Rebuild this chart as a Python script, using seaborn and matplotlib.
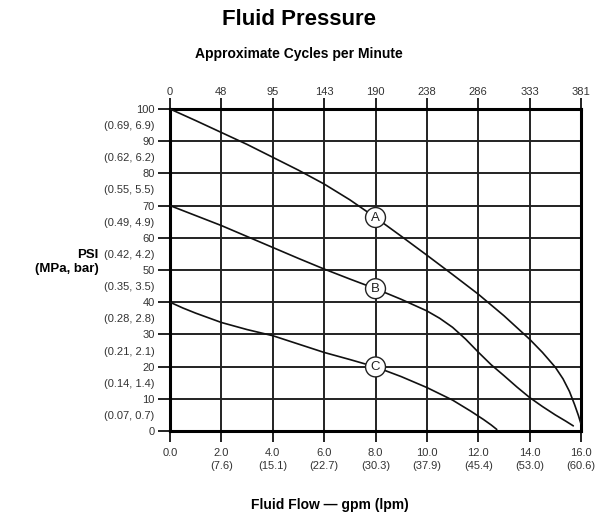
import matplotlib
matplotlib.use("Agg")
import matplotlib.pyplot as plt
import seaborn as sns
import pandas as pd
from matplotlib import font_manager

# ---- data ----
flow_ticks = [0, 2, 4, 6, 8, 10, 12, 14, 16]
flow_labels = ["0.0", "2.0\n(7.6)", "4.0\n(15.1)", "6.0\n(22.7)", "8.0\n(30.3)",
               "10.0\n(37.9)", "12.0\n(45.4)", "14.0\n(53.0)", "16.0\n(60.6)"]
cycle_labels = ["0", "48", "95", "143", "190", "238", "286", "333", "381"]
psi_ticks = [0, 10, 20, 30, 40, 50, 60, 70, 80, 90, 100]
mpa_ticks = [5, 15, 25, 35, 45, 55, 65, 75, 85, 95]
mpa_labels = ["(0.07, 0.7)", "(0.14, 1.4)", "(0.21, 2.1)", "(0.28, 2.8)", "(0.35, 3.5)",
              "(0.42, 4.2)", "(0.49, 4.9)", "(0.55, 5.5)", "(0.62, 6.2)", "(0.69, 6.9)"]

a_flow = [0, 1, 2, 3, 4, 5, 6, 7, 8, 9, 10, 11, 12, 13, 14, 14.5, 15, 15.3, 15.55,
          15.75, 15.9, 16.0]
a_psi = [100, 96.4, 92.7, 89.0, 85.0, 81.0, 76.7, 71.8, 66.3, 60.5, 54.6, 48.6, 42.5,
         35.8, 28.5, 24.4, 19.8, 16.2, 12.3, 8.2, 4.8, 2.2]
b_flow = [0, 1, 2, 3, 4, 5, 6, 7, 8, 9, 10, 10.5, 11, 11.5, 12, 12.5, 13, 13.5, 14, 14.5,
          15, 15.4, 15.7]
b_psi = [70, 66.9, 63.8, 60.4, 57.0, 53.6, 50.3, 47.2, 44.2, 40.9, 37.3, 35.0, 32.2,
         28.6, 24.5, 20.6, 17.2, 13.7, 10.4, 7.6, 5.0, 3.1, 1.6]
c_flow = [0, 0.5, 1, 2, 3, 4, 5, 6, 7, 8, 9, 10, 11, 11.7, 12.2, 12.5, 12.72]
c_psi = [40, 38.2, 36.6, 33.7, 31.5, 29.6, 27.0, 24.4, 22.2, 19.9, 16.9, 13.5, 9.6,
         6.2, 3.6, 1.9, 0.5]

label_names = ["A", "B", "C"]
label_flow = [8.0, 8.0, 8.0]
label_psi = [66.3, 44.2, 19.9]

# ---- fonts ----
names = {f.name for f in font_manager.fontManager.ttflist}
fam = "Liberation Sans Narrow" if "Liberation Sans Narrow" in names else "Liberation Sans"

sns.set_theme(style="white")
plt.rcParams["font.family"] = [fam, "DejaVu Sans"]

df = pd.concat([
    pd.DataFrame({"flow": a_flow, "psi": a_psi, "curve": "A"}),
    pd.DataFrame({"flow": b_flow, "psi": b_psi, "curve": "B"}),
    pd.DataFrame({"flow": c_flow, "psi": c_psi, "curve": "C"}),
])

fig = plt.figure(figsize=(5.97, 5.22), dpi=100)
ax = fig.add_axes([0.2848, 0.1743, 0.9732 - 0.2848, 0.7912 - 0.1743])

sns.lineplot(data=df, x="flow", y="psi", units="curve", estimator=None, sort=False,
             color="#111111", linewidth=1.2, ax=ax, zorder=3)

ax.set_xlim(0, 16)
ax.set_ylim(0, 100)

# grid
for v in flow_ticks:
    ax.axvline(v, color="#222222", linewidth=1.4, zorder=1)
for v in psi_ticks:
    ax.axhline(v, color="#222222", linewidth=1.4, zorder=1)

for s in ax.spines.values():
    s.set_visible(True)
    s.set_color("black")
    s.set_linewidth(2.2)

ax.set_xticks(flow_ticks)
ax.set_xticklabels(flow_labels, fontsize=8, color="#333333", linespacing=1.45)
ax.set_yticks(psi_ticks)
ax.set_yticklabels([str(v) for v in psi_ticks], fontsize=8, color="#333333")
ax.set_yticks(mpa_ticks, minor=True)
ax.set_yticklabels(mpa_labels, minor=True, fontsize=8, color="#333333")
ax.tick_params(axis="y", which="major", direction="out", length=9, width=1.4,
               color="#222222", left=True, pad=2)
ax.tick_params(axis="y", which="minor", length=0, pad=11)
ax.tick_params(axis="x", which="major", direction="out", length=8, width=1.4,
               color="#222222", bottom=True, pad=4)
ax.set_xlabel("")
ax.set_ylabel("")

top = ax.secondary_xaxis("top")
top.set_xticks(flow_ticks)
top.set_xticklabels(cycle_labels, fontsize=8, color="#333333")
top.tick_params(direction="out", length=8, width=1.4, color="#222222", pad=0.5)
top.spines["top"].set_visible(False)

# curve labels
for n, fx, py in zip(label_names, label_flow, label_psi):
    ax.text(fx, py, n, ha="center", va="center", fontsize=9.5, color="#222222", zorder=5,
            bbox=dict(boxstyle="circle,pad=0.3", fc="white", ec="#222222", lw=1.0))

fig.text(0.5, 0.962, "Fluid Pressure", ha="center", va="center",
         fontsize=16, fontweight="bold", color="black")
fig.text(0.5, 0.897, "Approximate Cycles per Minute", ha="center", va="center",
         fontsize=10, fontweight="bold", color="black")
fig.text(0.165, 0.498, "PSI\n(MPa, bar)", ha="right", va="center", fontsize=9.5,
         fontweight="bold", color="black", multialignment="right", linespacing=1.3)
fig.text(0.553, 0.033, "Fluid Flow — gpm (lpm)", ha="center", va="center",
         fontsize=10, fontweight="bold", color="black")

fig.savefig("out.png", dpi=100)
